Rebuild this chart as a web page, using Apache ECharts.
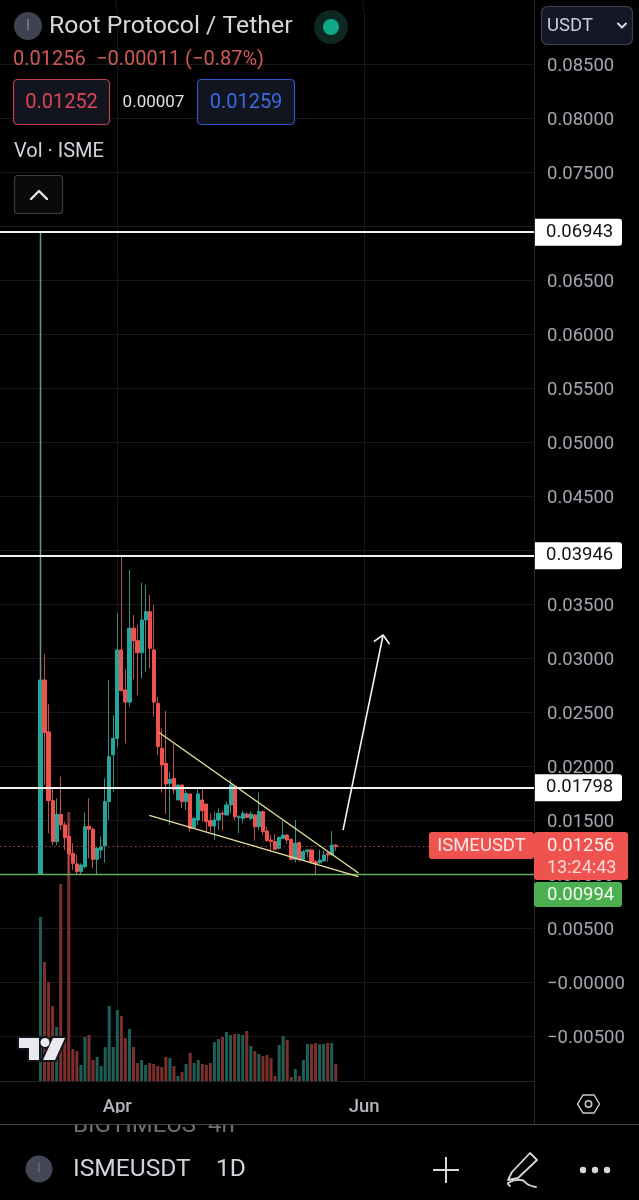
<!DOCTYPE html>
<html><head><meta charset="utf-8">
<style>html,body{margin:0;padding:0;background:#000}#c{width:639px;height:1200px}</style>
<script src="https://cdn.jsdelivr.net/npm/echarts@6/dist/echarts.min.js"></script>
</head><body><div id="c"></div>
<script>
// --- daily candles, first candle 2024-03-13 ---
const opens=[.0100,.02796,.02315,.01679,.01299,.01552,.01454,.01346,.01191,.01093,.01022,.01068,.01444,.01414,.01136,.01222,.01259,.0167,.02102,.02256,.03074,.02704,.02592,.03275,.0316,.03049,.03352,.03429,.03074,.0258,.02164,.02025,.0184,.01886,.01685,.01824,.0167,.01741,.01432,.015,.01685,.01648,.01494,.01444,.015,.01562,.01546,.01639,.01809,.01521,.01515,.01555,.01515,.01546,.01438,.01577,.01398,.01315,.013,.01238,.0133,.01361,.01321,.01136,.0129,.01136,.01207,.01222,.01114,.01105,.0112,.01191,.01182,.01267];
const closes=[.02796,.02309,.01679,.01299,.01552,.01454,.01336,.01185,.01099,.01022,.01083,.01438,.01414,.01136,.01238,.01253,.0167,.02086,.02256,.03074,.02697,.02592,.03275,.0316,.03049,.03352,.03429,.0309,.02592,.02179,.02009,.01833,.01877,.0178,.01824,.0167,.01747,.01423,.01515,.01741,.01586,.01485,.01444,.015,.01562,.01555,.01639,.01824,.0153,.0153,.01562,.01525,.01555,.01438,.01577,.01392,.01309,.013,.01228,.0134,.01361,.01315,.01136,.01284,.01136,.01207,.01222,.01114,.01093,.0113,.01176,.01176,.01268,.01256];
const lows=[.00994,.01824,.01377,.01268,.01268,.01407,.01222,.00997,.01037,.0100,.0100,.01052,.01145,.01052,.0100,.01145,.01105,.015,.01762,.02173,.02697,.0221,.02549,.02802,.02657,.02812,.02873,.02904,.02457,.02102,.01753,.01556,.01454,.01741,.01685,.01608,.01593,.01392,.01432,.01454,.01485,.01392,.01392,.01315,.01407,.01401,.01546,.01562,.015,.01377,.01469,.01515,.015,.01309,.01407,.01361,.013,.01207,.01222,.01228,.01321,.01278,.0113,.01105,.01114,.0113,.01154,.01093,.0100,.01093,.01114,.01114,.01167,.01216];
const highs=[.06943,.03034,.02571,.01793,.01701,.01901,.01485,.01469,.01284,.01176,.01099,.01568,.01701,.01432,.01253,.01346,.01886,.02796,.02472,.03414,.03946,.02895,.03815,.03398,.03305,.03697,.03676,.03583,.03491,.02642,.02349,.02512,.01948,.02204,.01824,.0183,.01778,.01741,.0153,.01793,.01793,.01648,.01562,.01577,.01608,.01586,.0167,.01877,.01824,.01546,.01586,.01568,.01577,.01552,.01753,.01586,.01438,.01361,.0137,.01346,.01494,.0137,.0133,.015,.013,.01222,.01228,.01228,.0113,.01225,.01216,.01207,.01398,.01277];
const volumes=[164,119,99,75,54,197,40,269,32,30,16,44,46,21,24,15,34,75,34,71,65,43,52,34,18,21,16,18,17,15,14,24,23,15,5,9,17,28,18,21,17,16,18,39,42,44,49,46,47,47,46,50,35,30,27,25,26,23,5,36,45,41,4,12,5,21,37,37,38,37,37,38,38,17];
// --- axis ---
const leadingDays=10, totalDays=133;
const priceTicks=[-0.01,0.09];
const monthTicks={'2024-04-01':'Apr','2024-06-01':'Jun'};
// --- horizontal levels ---
const whiteLevels=[0.06943,0.03946,0.01798];
const supportLevel=0.00994, lastPrice=0.01256;
// --- drawings: [bar position, price] ---
const upperTrend=[[39.4,.02308],[88.6,.01009]];
const lowerTrend=[[36.9,.01543],[88.6,.00975]];
const arrowShaft=[[84.8,.01407],[94.7,.03213]];
const arrowHead=[[92.4,.03151],[94.7,.03213],[96.3,.03127]];

const categories=[];
for(let i=0;i<totalDays;i++){const d=new Date(Date.UTC(2024,2,3+i));categories.push(d.toISOString().slice(0,10));}
const pad=Array(leadingDays).fill(null);
const empty=()=>['-','-','-','-'];
const wickData=pad.map(empty).concat(opens.map((o,i)=>[o,closes[i],lows[i],highs[i]]));
const bodyData=pad.map(empty).concat(opens.map((o,i)=>[o,closes[i],Math.min(o,closes[i]),Math.max(o,closes[i])]));
const UP='#26a69a',DOWN='#ef5350',WUP='#358d85',WDOWN='#b9514d',VUP='#1d5f57',VDOWN='#7c302d';
const volData=pad.map(()=>'-').concat(volumes.map((v,i)=>({value:v,itemStyle:{color:closes[i]>=opens[i]?VUP:VDOWN}})));
wickData[leadingDays]={value:wickData[leadingDays],itemStyle:{borderColor:'#6b918d',borderWidth:1.5}};
const isTick=(i,v)=>monthTicks[v]!==undefined;
const F='Roboto';
const GRID='#181818';

const tagLabel={show:true,position:'end',distance:0,formatter:p=>p.value.toFixed(5),backgroundColor:'#fff',color:'#131313',fontFamily:F,fontSize:18.5,width:76,height:27,lineHeight:29,padding:[0,0,0,12],borderRadius:[0,3,3,0],align:'left',verticalAlign:'middle'};
const markLines=whiteLevels.map(v=>({yAxis:v,lineStyle:{color:'#f2f2f2',width:2,type:'solid'},label:tagLabel}));
markLines.push({yAxis:supportLevel,lineStyle:{color:'#66ab66',width:1.4,type:'solid'},label:{show:false}});
markLines.push({yAxis:lastPrice,lineStyle:{color:'#a8443f',width:1,type:[1.5,3]},label:{show:false}});

const T=(x,y,text,o={})=>({type:'text',x,y:y+2,z:o.z||10,style:{text,fill:o.c||'#d1d4dc',font:(o.w||400)+' '+(o.s||18)+'px '+(o.f||F),textAlign:o.a||'left',textVerticalAlign:'middle'}});
const R=(x,y,w,h,fill,stroke,r,z)=>({type:'rect',z:z||9,shape:{x,y,width:w,height:h,r:r||0},style:{fill:fill||'transparent',stroke:stroke||'transparent',lineWidth:stroke?1.2:0}});
const L=(x1,y1,x2,y2,c,w,z)=>({type:'line',z:z||9,shape:{x1,y1,x2,y2},style:{stroke:c,lineWidth:w||1}});
const C=(cx,cy,r,fill,stroke)=>({type:'circle',z:9,shape:{cx,cy,r},style:{fill:fill||'transparent',stroke:stroke||'transparent',lineWidth:stroke?1.5:0}});
const P=(points,stroke,w,z,smooth)=>({type:'polyline',z:z||10,shape:{points,smooth:smooth||0},style:{stroke,lineWidth:w,fill:'transparent',lineCap:'round',lineJoin:'round'}});
const logoShapes=[[[19,1038],[39,1038],[39,1060],[29,1060],[29,1048],[19,1048]],[[53,1038],[65,1038],[55,1060],[43,1060]]];
const logo=[];
logoShapes.forEach(points=>{
 logo.push({type:'polygon',z:10,shape:{points},style:{fill:'#10131c',stroke:'#10131c',lineWidth:4}});
 logo.push({type:'polygon',z:11,shape:{points},style:{fill:'#e9e9f0'}});
});
logo.push({type:'circle',z:10,shape:{cx:45,cy:1042.5,r:6.5},style:{fill:'#10131c'}});
logo.push({type:'circle',z:11,shape:{cx:45,cy:1042.5,r:4.5},style:{fill:'#e9e9f0'}});

const graphics=[
 L(116,0,116,10,GRID),L(363.1,0,363.1,10,GRID),
 L(534.5,0,534.5,1124,'#2a2a2a',1,8),
 T(73,1124,'BIGTIMEUS  4h',{c:'#6f6f6f',s:24,z:1}),
 R(0,1113,639,11,'#000',null,0,2),
 L(0,1124.5,639,1124.5,'#444',1.2,3),
 // header
 C(28,26,14,'#3d4150'),T(28,24,'I',{a:'center',c:'#80838f',s:15}),
 T(49,24.5,'Root Protocol / Tether',{s:24.8,c:'#d6d7da'}),
 C(331,27,17,'#0e2723'),C(331,27,8,'#0fa98a'),
 T(13,57.5,'0.01256',{s:20,c:'#cf5a55'}),T(96,57.5,'\u22120.00011 (\u22120.87%)',{s:20,c:'#cf5a55'}),
 R(13.5,79.5,96,45,'#12151f','#c23e50',4),T(61.5,100.5,'0.01252',{a:'center',s:20,c:'#dc4558'}),
 T(153.5,100.5,'0.00007',{a:'center',s:17,c:'#e0e0e0'}),
 R(197.5,79.5,97,45,'#12151f','#2f55c6',4),T(246,100.5,'0.01259',{a:'center',s:20,c:'#3a6ae0'}),
 T(14,149.5,'Vol \u00b7 ISME',{s:20,c:'#d1d4dc'}),
 R(14.5,175.5,48,38,'#0a0a0a','#3b3b40',3),P([[31,199],[39,191],[47,199]],'#e8e8e8',2.4),
 R(541.5,6.5,91,38,'#141826','#3d404c',6),T(547,24,'USDT',{s:18.5,c:'#c9ccd4'}),P([[618,23.5],[622,27.5],[626,23.5]],'#d8dae0',2),
 // price chips
 R(429,832,105,27,'#ef5350',null,3,12),T(481.5,844,'ISMEUSDT',{a:'center',s:18.5,c:'#fbe6e5',z:13}),
 R(534,832,94,48,'#ef5350',null,3,12),T(547,844,'0.01256',{s:18.5,c:'#fdeeee',z:13}),T(547,866,'13:24:43',{s:18,c:'#fbd9d7',z:13}),
 R(534,882,88,25,'#4caf50',null,3,12),T(547,893,'0.00994',{s:18.5,c:'#f2fbf2',z:13}),
 ...logo,
 // axis settings icon
 {type:'polygon',z:9,shape:{points:[[577.5,1104],[583,1095],[594,1095],[599.5,1104],[594,1113],[583,1113]]},style:{fill:'transparent',stroke:'#c9ccd4',lineWidth:1.4}},
 C(588.5,1104,3.2,null,'#c9ccd4'),
 // bottom bar
 C(39,1169,13.5,'#434757'),T(39,1167,'I',{a:'center',c:'#6e7280',s:13}),
 T(73,1167.5,'ISMEUSDT',{s:24.6,c:'#d1d4dc'}),T(216,1167.5,'1D',{s:24.6,c:'#d1d4dc'}),
 L(433,1170,459,1170,'#d8d8d8',2),L(446,1157,446,1183,'#d8d8d8',2),
 P([[512,1172],[530,1153],[537,1160],[518,1178],[508,1180],[512,1172]],'#d8d8d8',1.8),
 P([[510,1186],[508,1183],[521,1180],[529,1185],[536,1187]],'#d8d8d8',1.8,10,0.5),
 C(583,1170,3.2,'#d8d8d8'),C(595,1170,3.2,'#d8d8d8'),C(607,1170,3.2,'#d8d8d8')
];

const drawing=(name,data,color,w)=>({name,type:'line',xAxisIndex:2,yAxisIndex:0,data,showSymbol:false,symbol:'none',silent:true,animation:false,z:6,lineStyle:{color,width:w}});
const LEFT=-2.1,WIDTH=536.1;
const chart=echarts.init(document.getElementById('c'),null,{renderer:'canvas',width:639,height:1200});
chart.setOption({
 backgroundColor:'#000',animation:false,
 grid:[{left:LEFT,width:WIDTH,top:10,height:1080},{left:LEFT,width:WIDTH,top:10,height:1071},{left:LEFT,width:WIDTH,top:12,height:1080}],
 xAxis:[
  {type:'category',gridIndex:0,data:categories,boundaryGap:false,axisLine:{show:false},axisTick:{show:false},axisLabel:{show:false},splitLine:{show:false}},
  {type:'category',gridIndex:1,data:categories,boundaryGap:false,axisLine:{show:true,lineStyle:{color:'#222'}},axisTick:{show:false},
   axisLabel:{interval:isTick,formatter:v=>monthTicks[v]||'',color:'#b2b5be',fontFamily:F,fontWeight:500,fontSize:18.5,margin:17},
   splitLine:{show:true,interval:isTick,lineStyle:{color:GRID}}},
  {type:'value',gridIndex:0,min:0,max:132,show:false},
  {type:'value',gridIndex:2,min:0,max:132,show:false}
 ],
 yAxis:[
  {type:'value',gridIndex:0,position:'right',min:priceTicks[0],max:priceTicks[1],interval:0.005,axisLine:{show:false},axisTick:{show:false},axisLabel:{show:false},
   splitLine:{show:true,showMinLine:false,showMaxLine:false,lineStyle:{color:GRID}}},
  {type:'value',gridIndex:1,min:0,max:1071,show:false,splitLine:{show:false}},
  {type:'value',gridIndex:2,position:'right',min:priceTicks[0],max:priceTicks[1],interval:0.005,axisLine:{show:false},axisTick:{show:false},splitLine:{show:false},
   axisLabel:{margin:13,align:'left',color:'#a3a6af',fontFamily:F,fontSize:18.5,showMinLabel:false,showMaxLabel:false,
    formatter:v=>{const r=Math.round(v*1e5)/1e5;return (r<=0?'\u2212':'')+Math.abs(r).toFixed(5);}}}
 ],
 series:[
  {name:'Vol',type:'bar',xAxisIndex:1,yAxisIndex:1,data:volData,barWidth:3,silent:true,z:1},
  {name:'ISMEUSDT wicks',type:'candlestick',xAxisIndex:0,yAxisIndex:0,data:wickData,barWidth:1,silent:true,z:3,
   itemStyle:{color:WUP,color0:WDOWN,borderColor:WUP,borderColor0:WDOWN,borderWidth:1},
   markLine:{silent:true,symbol:'none',animation:false,z:5,precision:5,data:markLines}},
  {name:'ISMEUSDT bodies',type:'candlestick',xAxisIndex:0,yAxisIndex:0,data:bodyData,barWidth:3.6,silent:true,z:4,
   itemStyle:{color:UP,color0:DOWN,borderColor:UP,borderColor0:DOWN,borderWidth:1}},
  drawing('upper',upperTrend,'#e6e09a',1.4),
  drawing('lower',lowerTrend,'#e6e09a',1.4),
  drawing('arrow',arrowShaft,'#f2f2f2',1.6),
  drawing('arrowhead',arrowHead,'#f2f2f2',1.6)
 ],
 graphic:{elements:graphics}
});
</script></body></html>
